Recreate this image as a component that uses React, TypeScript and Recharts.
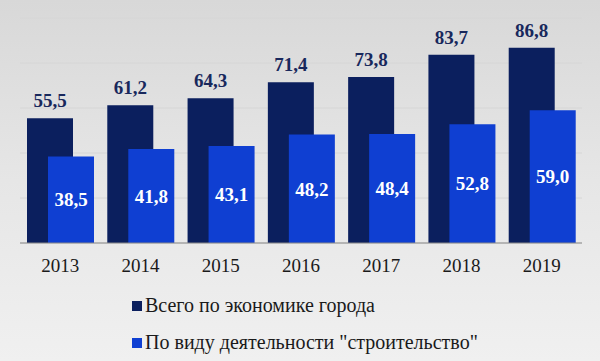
import { BarChart, Bar, XAxis, YAxis, CartesianGrid, LabelList } from "recharts";

const years = ["2013", "2014", "2015", "2016", "2017", "2018", "2019"];
const vsego = [55.5, 61.2, 64.3, 71.4, 73.8, 83.7, 86.8];
const stroitelstvo = [38.5, 41.8, 43.1, 48.2, 48.4, 52.8, 59.0];
const seriesNames = ["Всего по экономике города", 'По виду деятельности "строительство"'];
const yTicks = [0, 20, 40, 60, 80, 100];

const DARK = "#0b1f5e";
const BLUE = "#0f3fd2";
const FONT = "Times New Roman, DejaVu Serif, serif";

const data = years.map((y, i) => ({ year: y, vsego: vsego[i], stroi: stroitelstvo[i] }));

const fmt = (v: any) => Number(v).toFixed(1).replace(".", ",");

export default function App() {
  return (
    <div
      style={{
        position: "fixed",
        left: 0,
        top: 0,
        width: 600,
        height: 361,
        background: "linear-gradient(to bottom, #d8d8d8 0%, #e6e6e6 50%, #f0f0f0 100%)",
        fontFamily: FONT,
      }}
    >
      <BarChart
        width={600}
        height={361}
        data={data}
        margin={{ top: 18, right: 18, left: 20, bottom: 88 }}
        barSize={46}
        barGap={-25}
        style={{ fontFamily: FONT }}
      >
        <CartesianGrid vertical={false} stroke="#d6d6d6" strokeWidth={1} />
        <YAxis hide domain={[0, 100]} ticks={yTicks} />
        <XAxis
          dataKey="year"
          stroke="#8a8a8a"
          tickLine={false}
          tickSize={6}
          tickMargin={10}
          height={30}
          tick={{ fill: "#1a1a1a", fontSize: 19, fontFamily: FONT }}
        />
        <Bar dataKey="vsego" fill={DARK} isAnimationActive={false}>
          <LabelList
            dataKey="vsego"
            position="top"
            offset={11}
            formatter={fmt}
            fill="#18285c"
            fontSize={19}
            fontWeight="bold"
            fontFamily={FONT}
          />
        </Bar>
        <Bar dataKey="stroi" fill={BLUE} isAnimationActive={false}>
          <LabelList
            dataKey="stroi"
            position="center"
            formatter={fmt}
            fill="#ffffff"
            fontSize={19}
            fontWeight="bold"
            fontFamily={FONT}
          />
        </Bar>
      </BarChart>
      <div style={{ position: "absolute", left: 132, top: 287 }}>
        {seriesNames.map((name, i) => (
          <div
            key={name}
            style={{ display: "flex", alignItems: "center", height: 37, fontSize: 20, color: "#1a1a1a" }}
          >
            <span
              style={{
                display: "inline-block",
                width: 10,
                height: 10,
                background: i === 0 ? DARK : BLUE,
                marginRight: 3,
              }}
            />
            <span>{name}</span>
          </div>
        ))}
      </div>
    </div>
  );
}
